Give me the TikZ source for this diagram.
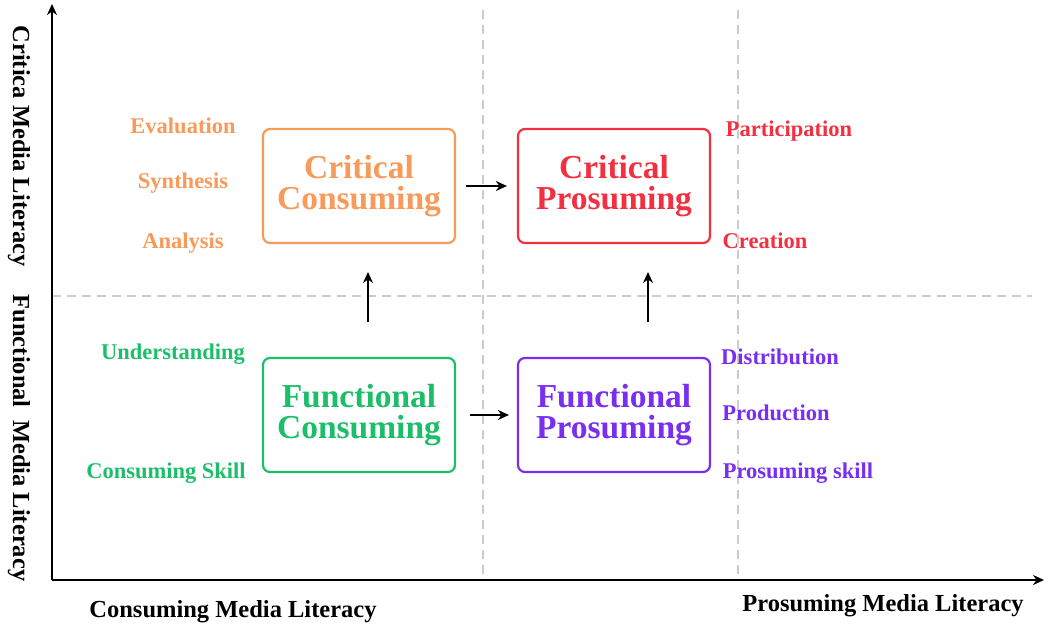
\documentclass[tikz,border=0pt]{standalone}
\usepackage{fontspec}
\setmainfont{Liberation Serif}
\usetikzlibrary{arrows.meta}
\definecolor{corange}{HTML}{F79A5A}
\definecolor{cred}{HTML}{F2303F}
\definecolor{cgreen}{HTML}{1DBE6A}
\definecolor{cpurple}{HTML}{7A2EF0}
\begin{document}
\begin{tikzpicture}[x=1pt,y=-1pt,
  box/.style={draw,line width=2.2pt,rounded corners=7pt,minimum width=192pt,minimum height=114pt,align=center,font=\bfseries\fontsize{33.5}{34}\selectfont},
  lab/.style={font=\bfseries\fontsize{22.5}{24}\selectfont},
  axl/.style={font=\bfseries\fontsize{24.5}{26}\selectfont},
  grid dash/.style={draw=gray!40,line width=2.2pt,dash pattern=on 9pt off 6pt},
  arr/.style={-{Stealth[length=11pt,width=10pt]},line width=2.4pt}]
\useasboundingbox (0,0) rectangle (1060,644);
\coordinate (o) at (52,580);
\coordinate (yt) at (52,4);
\coordinate (xr) at (1044,580);
\coordinate (v1a) at (483,10); \coordinate (v1b) at (483,580);
\coordinate (v2a) at (738,10); \coordinate (v2b) at (738,580);
\coordinate (ha) at (52,296); \coordinate (hb) at (1032,296);
\draw[grid dash] (v1a)--(v1b); \draw[grid dash] (v2a)--(v2b); \draw[grid dash] (ha)--(hb);
\draw[arr] (o)--(yt); \draw[arr] (o)--(xr);
\node[box,draw=corange,text=corange] (cc) at (359,186) {Critical\\[-3pt]Consuming};
\node[box,draw=cred,text=cred] (cp) at (614,186) {Critical\\[-3pt]Prosuming};
\node[box,draw=cgreen,text=cgreen] (fc) at (359,415) {Functional\\[-3pt]Consuming};
\node[box,draw=cpurple,text=cpurple] (fp) at (614,415) {Functional\\[-3pt]Prosuming};
\coordinate (u1a) at (368,322); \coordinate (u1b) at (368,272);
\coordinate (u2a) at (648,322); \coordinate (u2b) at (648,272);
\draw[arr] ([xshift=10pt]cc.east)--([xshift=-10pt]cp.west);
\draw[arr] ([xshift=14pt]fc.east)--([xshift=-8pt]fp.west);
\draw[arr] (u1a)--(u1b);
\draw[arr] (u2a)--(u2b);
\node[lab,text=corange] (l1) at (183,126) {Evaluation};
\node[lab,text=corange] (l2) at (183,183) {Synthesis};
\node[lab,text=corange] (l3) at (183,243) {Analysis};
\node[lab,text=cred] (l4) at (789,131) {Participation};
\node[lab,text=cred] (l5) at (765,241) {Creation};
\node[lab,text=cgreen] (l6) at (173,354) {Understanding};
\node[lab,text=cgreen] (l7) at (166,473) {Consuming Skill};
\node[lab,text=cpurple] (l8) at (780,357) {Distribution};
\node[lab,text=cpurple] (l9) at (776,413) {Production};
\node[lab,text=cpurple] (l10) at (798,473) {Prosuming skill};
\node[axl,rotate=-90] (ya) at (19,146) {Critica Media Literacy};
\node[axl,rotate=-90] (yb) at (19,438) {Functional\ \ Media Literacy};
\node[axl] (xa) at (233,612) {Consuming Media Literacy};
\node[axl] (xb) at (883,606) {Prosuming Media Literacy};
\end{tikzpicture}
\end{document}
